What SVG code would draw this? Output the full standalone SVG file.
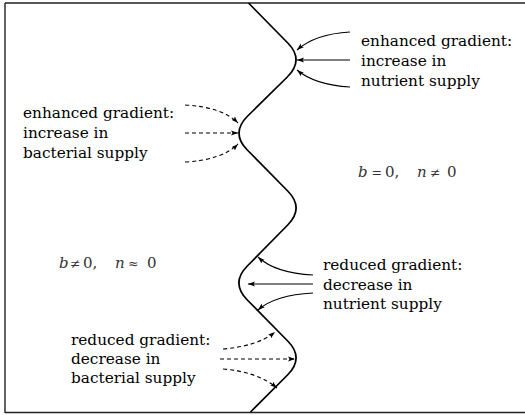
<svg xmlns="http://www.w3.org/2000/svg" width="525" height="415" viewBox="0 0 525 415">
<style>
.lbl{font-family:"DejaVu Serif","Liberation Serif",serif;font-size:15.3px;fill:#000}
.math{font-family:"DejaVu Serif","Liberation Serif",serif;font-size:15px;fill:#333}
.it{font-style:italic}
.op{font-size:12.5px}
.frame{fill:none;stroke:#222;stroke-width:1.4}
.curve{fill:none;stroke:#000;stroke-width:1.7;stroke-linejoin:round}
.arr{fill:none;stroke:#000;stroke-width:1.1;marker-end:url(#ah)}
.dash{stroke-dasharray:4 3}
</style>
<defs>
<marker id="ah" markerUnits="userSpaceOnUse" markerWidth="8" markerHeight="6" refX="7" refY="3" orient="auto">
<path d="M0,0.6 L7,3 L0,5.4 L1.5,3 z" fill="#000"/>
</marker>
</defs>
<g id="frame">
<path class="frame" d="M5,3 H525 M5,3 V413 M5,412.5 H525"/>
</g>
<g id="interface">
<path class="curve" d="M248.5,3 L287.8,43 Q304.5,60 287.3,77 L247.7,116 Q230.5,133 247.3,150 L287.7,191 Q304.5,208 287.7,225 L247.3,266 Q230.5,283 247.3,300 L287.7,341 Q304.5,358 287.5,375 L250.5,412"/>
</g>
<g id="connectors">
<path class="arr" d="M350,32 Q315,34 297,50"/>
<path class="arr" d="M350,60 L297,60"/>
<path class="arr" d="M350,87 Q315,85 297,70"/>
<path class="arr dash" d="M185,105 Q222,107 238,123"/>
<path class="arr dash" d="M185,133 L238,133"/>
<path class="arr dash" d="M185,162 Q222,160 238,144"/>
<path class="arr" d="M313,275 Q275,273 258,257"/>
<path class="arr" d="M313,284 L248,284"/>
<path class="arr" d="M313,293 Q275,295 258,310"/>
<path class="arr dash" d="M223,349 Q258,346 275,332"/>
<path class="arr dash" d="M220,359 L295,359"/>
<path class="arr dash" d="M223,369 Q258,372 277,388"/>
</g>
<g id="label-nutrient-increase">
<text class="lbl" x="361" y="46">enhanced gradient:</text>
<text class="lbl" x="361" y="66">increase in</text>
<text class="lbl" x="361" y="86">nutrient supply</text>
</g>
<g id="label-bacterial-increase">
<text class="lbl" x="23" y="118">enhanced gradient:</text>
<text class="lbl" x="23" y="138">increase in</text>
<text class="lbl" x="23" y="158">bacterial supply</text>
</g>
<g id="label-nutrient-decrease">
<text class="lbl" x="323" y="270">reduced gradient:</text>
<text class="lbl" x="323" y="290">decrease in</text>
<text class="lbl" x="323" y="309">nutrient supply</text>
</g>
<g id="label-bacterial-decrease">
<text class="lbl" x="71" y="345">reduced gradient:</text>
<text class="lbl" x="71" y="364">decrease in</text>
<text class="lbl" x="71" y="383">bacterial supply</text>
</g>
<g id="region-left">
<text class="math" y="268"><tspan class="it" x="59">b</tspan><tspan class="op" x="70">≠</tspan><tspan x="83">0,</tspan><tspan class="it" x="115">n</tspan><tspan class="op" x="128">≈</tspan><tspan x="147">0</tspan></text>
</g>
<g id="region-right">
<text class="math" y="177"><tspan class="it" x="358">b</tspan><tspan class="op" x="371.5">=</tspan><tspan x="385">0,</tspan><tspan class="it" x="417">n</tspan><tspan class="op" x="430">≠</tspan><tspan x="447">0</tspan></text>
</g>
</svg>
